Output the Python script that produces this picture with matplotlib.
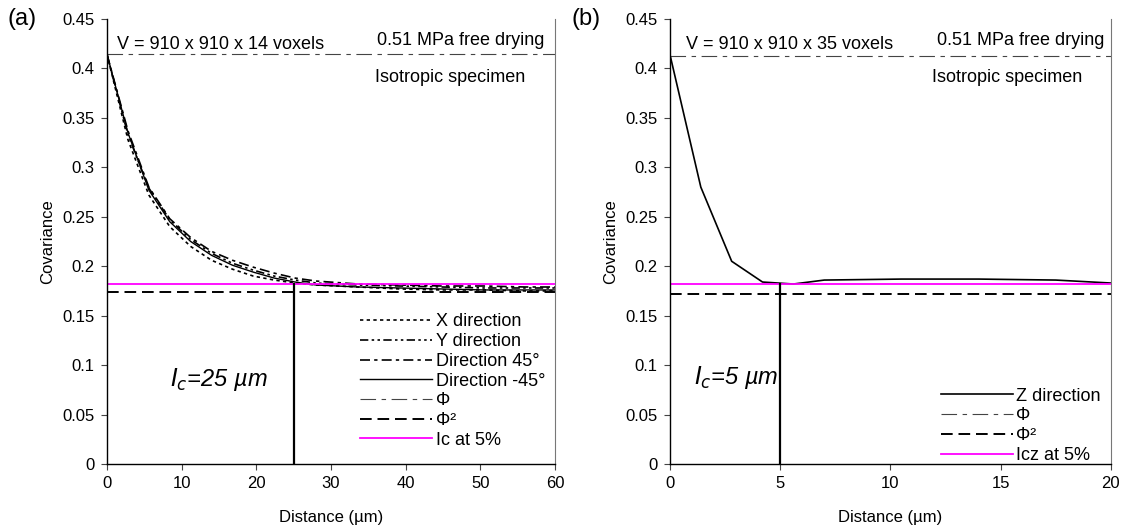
import matplotlib
matplotlib.use("Agg")
import matplotlib.pyplot as plt

plt.rcParams['font.family'] = ['Liberation Sans', 'DejaVu Sans']

# panel (a): covariance along four directions
dist_a = [0, 2.8, 5.6, 8.4, 11.2, 14, 16.8, 19.6, 22.4, 25.2, 28, 33.6, 39.2, 44.8, 50.4, 56, 60]
cov_x = [0.414, 0.328, 0.272, 0.240, 0.220, 0.206, 0.197, 0.190, 0.186, 0.183, 0.181, 0.179, 0.177, 0.176, 0.176, 0.175, 0.175]
cov_y = [0.414, 0.333, 0.279, 0.247, 0.227, 0.213, 0.203, 0.196, 0.190, 0.186, 0.183, 0.181, 0.180, 0.179, 0.178, 0.178, 0.178]
cov_45 = [0.414, 0.337, 0.280, 0.248, 0.229, 0.215, 0.206, 0.199, 0.193, 0.188, 0.185, 0.182, 0.181, 0.180, 0.180, 0.179, 0.179]
cov_m45 = [0.414, 0.335, 0.277, 0.245, 0.225, 0.211, 0.201, 0.194, 0.188, 0.184, 0.181, 0.179, 0.178, 0.177, 0.176, 0.176, 0.176]
phi_a = 0.4145
phi2_a = 0.1735
ic5_a = 0.1825
lc_a = 25

# panel (b): Z direction
dist_b = [0, 1.4, 2.8, 4.2, 5.6, 7.0, 10.5, 14, 17.5, 20]
cov_z = [0.414, 0.280, 0.205, 0.184, 0.182, 0.186, 0.187, 0.187, 0.186, 0.183]
phi_b = 0.4125
phi2_b = 0.1720
ic5_b = 0.1825
lc_b = 5

yticks = [0, 0.05, 0.1, 0.15, 0.2, 0.25, 0.3, 0.35, 0.4, 0.45]
ytick_labels = ["0", "0.05", "0.1", "0.15", "0.2", "0.25", "0.3", "0.35", "0.4", "0.45"]

fs = 12
txt = 13
leg_fs = 13
phi_style = dict(color="#444444", lw=0.8, dashes=(14, 5, 4, 5))
phi2_style = dict(color="black", lw=1.4, ls=(0, (6, 3)))

fig = plt.figure(figsize=(11.22, 5.31), dpi=100)
ax1 = fig.add_axes([0.0954, 0.1262, 0.3993, 0.838])
ax2 = fig.add_axes([0.5971, 0.1262, 0.393, 0.838])


def style_axis(ax, xmax, xticks):
    ax.set_xlim(0, xmax)
    ax.set_ylim(0, 0.45)
    ax.set_xticks(xticks)
    ax.set_yticks(yticks)
    ax.set_yticklabels(ytick_labels)
    ax.spines['top'].set_visible(False)
    ax.spines['right'].set_color("#777777")
    ax.spines['left'].set_linewidth(1.0)
    ax.spines['bottom'].set_linewidth(1.0)
    ax.tick_params(direction="out", length=4, width=0.8, labelsize=fs, colors="#444444", labelcolor="black", pad=5)
    ax.set_ylabel("Covariance", fontsize=fs, labelpad=5)
    ax.set_xlabel("Distance (µm)", fontsize=fs, labelpad=13)


ax1.plot(dist_a, cov_x, color="black", lw=1.2, ls=(0, (2, 2)), label="X direction")
ax1.plot(dist_a, cov_y, color="black", lw=1.2, ls=(0, (5, 2, 1.5, 2, 1.5, 2)), label="Y direction")
ax1.plot(dist_a, cov_45, color="black", lw=1.2, ls=(0, (6, 2.5, 2, 2.5)), label="Direction 45°")
ax1.plot(dist_a, cov_m45, color="black", lw=1.0, label="Direction -45°")
ax1.axhline(phi_a, label="Φ", **phi_style)
ax1.axhline(phi2_a, label="Φ²", **phi2_style)
ax1.axhline(ic5_a, color="#ff00ff", lw=1.3, label="Ic at 5%")
ax1.plot([lc_a, lc_a], [0, ic5_a], color="black", lw=1.6)
style_axis(ax1, 60, [0, 10, 20, 30, 40, 50, 60])
ax1.legend(loc="lower right", bbox_to_anchor=(1.0, 0.012), frameon=False, fontsize=leg_fs,
           handlelength=4.0, handletextpad=0.2, labelspacing=0.15, borderaxespad=0.15)
ax1.text(1.3, 0.4245, "V = 910 x 910 x 14 voxels", fontsize=txt, va="center")
ax1.text(58.6, 0.4285, "0.51 MPa free drying", fontsize=txt, va="center", ha="right")
ax1.text(35.9, 0.391, "Isotropic specimen", fontsize=txt, va="center")
ax1.text(8.4, 0.085, "$I_c$=25 µm", fontsize=17, va="center", style="italic")

ax2.plot(dist_b, cov_z, color="black", lw=1.2, label="Z direction")
ax2.axhline(phi_b, label="Φ", **phi_style)
ax2.axhline(phi2_b, label="Φ²", **phi2_style)
ax2.axhline(ic5_b, color="#ff00ff", lw=1.3, label="Icz at 5%")
ax2.plot([lc_b, lc_b], [0, ic5_b], color="black", lw=1.6)
style_axis(ax2, 20, [0, 5, 10, 15, 20])
ax2.legend(loc="lower right", bbox_to_anchor=(1.0, -0.022), frameon=False, fontsize=leg_fs,
           handlelength=4.0, handletextpad=0.2, labelspacing=0.15, borderaxespad=0.15)
ax2.text(0.73, 0.4245, "V = 910 x 910 x 35 voxels", fontsize=txt, va="center")
ax2.text(19.7, 0.4285, "0.51 MPa free drying", fontsize=txt, va="center", ha="right")
ax2.text(11.9, 0.391, "Isotropic specimen", fontsize=txt, va="center")
ax2.text(1.1, 0.087, "$I_c$=5 µm", fontsize=17, va="center", style="italic")

fig.text(0.007, 0.965, "(a)", fontsize=17, va="center")
fig.text(0.509, 0.965, "(b)", fontsize=17, va="center")

fig.savefig("out.png", dpi=100)
